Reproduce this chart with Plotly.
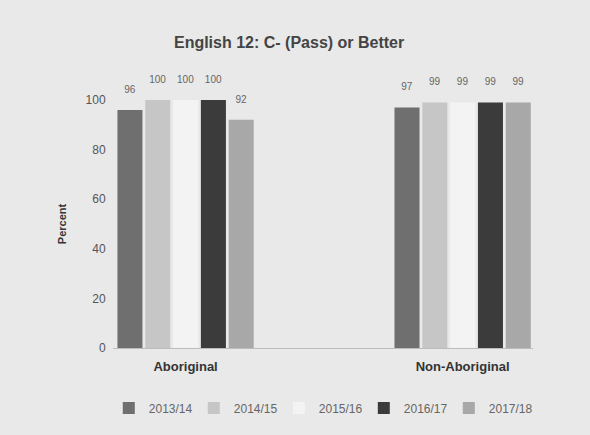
import plotly.graph_objects as go

categories = ["Aboriginal", "Non-Aboriginal"]
years = ["2013/14", "2014/15", "2015/16", "2016/17", "2017/18"]
values = {
    "2013/14": [96, 97],
    "2014/15": [100, 99],
    "2015/16": [100, 99],
    "2016/17": [100, 99],
    "2017/18": [92, 99],
}
colors = ["#6f6f6f", "#c6c6c6", "#f3f3f3", "#3b3b3b", "#a8a8a8"]

fig = go.Figure()
for y, c in zip(years, colors):
    fig.add_trace(go.Bar(
        x=categories, y=values[y], name=y, marker=dict(color=c, line=dict(width=0)),
        text=[str(v) for v in values[y]],
        texttemplate="%{text}<br><span style='font-size:5px'> </span>",
        textposition="outside",
        textfont=dict(size=10, color="#666666", family="Liberation Sans"),
        cliponaxis=False,
    ))

fig.update_layout(
    width=590, height=435,
    margin=dict(l=113, r=57, t=100, b=87, autoexpand=False),
    paper_bgcolor="#e9e9e9", plot_bgcolor="#e9e9e9",
    barmode="group", bargap=0.498, bargroupgap=0.1,
    font=dict(family="Liberation Sans", color="#555555", size=12),
    title=dict(text="<b>English 12: C- (Pass) or Better</b>", x=0.49, xanchor="center",
               y=0.903, yanchor="middle", font=dict(size=16, color="#444444")),
    xaxis=dict(range=[-0.262, 1.254], showline=True, linecolor="#bdbdbd", linewidth=1,
               ticks="outside", ticklen=6, tickcolor="rgba(0,0,0,0)",
               tickfont=dict(size=13, color="#333333", family="Liberation Sans"),
               tickprefix="<b>", ticksuffix="</b>"),
    yaxis=dict(range=[0, 100], dtick=20, showgrid=False, zeroline=False,
               ticks="outside", ticklen=4, tickcolor="rgba(0,0,0,0)",
               tickfont=dict(size=12, color="#555555"),
               title=dict(text="<b>Percent</b>", font=dict(size=11, color="#333333"), standoff=16)),
    legend=dict(orientation="h", x=-0.01, xanchor="left", y=-0.242, yanchor="middle",
                font=dict(size=12, color="#666666"), itemwidth=30, traceorder="normal",
                entrywidth=40, entrywidthmode="pixels"),
    showlegend=True,
)

fig.write_html("out.html")
